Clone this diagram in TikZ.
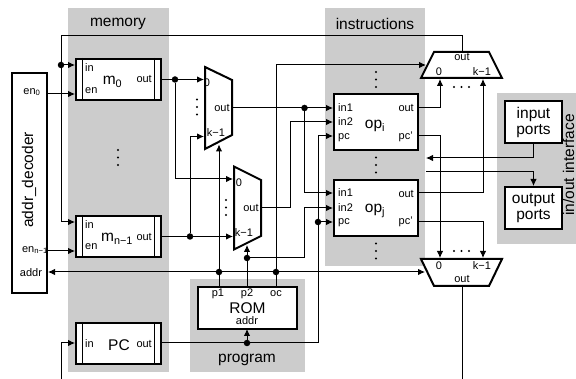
\documentclass[tikz,border=0pt]{standalone}
\usepackage{fontspec}
\setmainfont{Liberation Sans}
\usetikzlibrary{arrows.meta}
\definecolor{regiongray}{HTML}{CCCCCC}
\newcommand{\vdotset}[2]{\fill (#1,#2-7.5) circle (1.1) (#1,#2) circle (1.1) (#1,#2+7.5) circle (1.1);}
\newcommand{\hdotset}[2]{\fill (#1-7.5,#2) circle (1.1) (#1,#2) circle (1.1) (#1+7.5,#2) circle (1.1);}
\tikzset{
  region/.style={fill=regiongray,inner sep=0pt},
  box/.style={draw,line width=2pt,fill=white,inner sep=0pt,align=center,font=\fontsize{15.5}{16}\selectfont},
  mux/.style={draw,line width=2pt,fill=white,line join=miter},
  port/.style={font=\fontsize{11}{11}\selectfont,inner sep=0pt},
  bigtext/.style={font=\fontsize{15.5}{16}\selectfont,inner sep=0pt},
  junction/.style={circle,fill=black,inner sep=0pt,minimum size=6.5pt},
  wire/.style={line width=1pt},
  tip/.style={wire,-{Latex[length=7pt,width=6.5pt]}},
  twotip/.style={wire,{Latex[length=7pt,width=6.5pt]}-{Latex[length=7pt,width=6.5pt]}},
}
\begin{document}
\begin{tikzpicture}[x=1pt,y=-1pt]
\useasboundingbox (0,0) rectangle (576,379);
% grey areas
\node[region,minimum width=101pt,minimum height=364pt] (memreg) at (118.5,190) {};
\node[region,minimum width=100pt,minimum height=258pt] (instreg) at (375,137) {};
\node[region,minimum width=115pt,minimum height=93pt] (progreg) at (247.5,325.5) {};
\node[region,minimum width=79pt,minimum height=151pt] (ioreg) at (536.5,168.5) {};
% boxes
\node[box,minimum width=85pt,minimum height=41pt] (m0) at (118.5,79.5) {};
\node[box,minimum width=85pt,minimum height=41pt] (mn) at (118.5,236.5) {};
\node[box,minimum width=85pt,minimum height=41pt] (pc) at (118.5,343.5) {};
\draw[wire] ([xshift=7.5pt]m0.north west) -- ([xshift=7.5pt]m0.south west);
\draw[wire] ([xshift=-7.5pt]m0.north east) -- ([xshift=-7.5pt]m0.south east);
\draw[wire] ([xshift=7.5pt]mn.north west) -- ([xshift=7.5pt]mn.south west);
\draw[wire] ([xshift=-7.5pt]mn.north east) -- ([xshift=-7.5pt]mn.south east);
\draw[wire] ([xshift=7.5pt]pc.north west) -- ([xshift=7.5pt]pc.south west);
\draw[wire] ([xshift=-7.5pt]pc.north east) -- ([xshift=-7.5pt]pc.south east);
\node[box,minimum width=35pt,minimum height=220pt] (dec) at (29.5,183) {};
\node[box,minimum width=84pt,minimum height=56pt] (opi) at (376,122) {};
\node[box,minimum width=84pt,minimum height=56pt] (opj) at (376,208) {};
\node[box,minimum width=99pt,minimum height=42pt] (rom) at (247.5,308) {ROM};
\node[box,minimum width=57pt,minimum height=42pt] (inport) at (533.5,122) {input\\ports};
\node[box,minimum width=57pt,minimum height=42pt] (outport) at (533.5,208) {output\\ports};
% muxes
\draw[mux] (205,67) -- (232,80) -- (232,135) -- (205,149) -- cycle;
\draw[mux] (234,166.5) -- (261,180) -- (261,236) -- (234,249.5) -- cycle;
\draw[mux] (434,52) -- (489,52) -- (502,78) -- (421,78) -- cycle;
\draw[mux] (421,259) -- (502,259) -- (489,286) -- (434,286) -- cycle;
% ports and bends
\coordinate (m0in) at (75,65);
\coordinate (m0en) at (75,94);
\coordinate (m0out) at (162,79.5);
\coordinate (mnin) at (75,222);
\coordinate (mnen) at (75,251);
\coordinate (mnout) at (162,236.5);
\coordinate (pcin) at (75,343);
\coordinate (pcout) at (162,343);
\coordinate (decen0) at (47,94);
\coordinate (decenn) at (47,251);
\coordinate (decaddr) at (48,272);
\coordinate (maz) at (204,79.5);
\coordinate (mak) at (204,136.5);
\coordinate (mao) at (233,108);
\coordinate (mas) at (219,144.5);
\coordinate (mbz) at (233,179);
\coordinate (mbk) at (233,236.5);
\coordinate (mbo) at (262,208);
\coordinate (mbs) at (247,245);
\coordinate (iin1) at (333,108);
\coordinate (iin2) at (333,122);
\coordinate (ipc) at (333,136);
\coordinate (iout) at (419,108);
\coordinate (inext) at (419,136);
\coordinate (jin1) at (333,193);
\coordinate (jin2) at (333,208);
\coordinate (jpc) at (333,222);
\coordinate (jout) at (419,193);
\coordinate (jnext) at (419,222);
\coordinate (tz) at (440,79);
\coordinate (tk) at (483,79);
\coordinate (tsel) at (426,65);
\coordinate (tout) at (462,51);
\coordinate (dz) at (440,258);
\coordinate (dk) at (483,258);
\coordinate (dsel) at (425,272);
\coordinate (dout) at (462,287);
\coordinate (romp1) at (219,287);
\coordinate (romp2) at (247,287);
\coordinate (romoc) at (276,287);
\coordinate (romaddr) at (247,329);
\coordinate (bustl) at (61,36);
\coordinate (bustr) at (462,36);
\coordinate (busbl) at (61.5,379.3);
\coordinate (busbr) at (462,379.3);
\coordinate (mbbend) at (290,208);
\coordinate (p2bend) at (304,258);
\coordinate (pcbend) at (318,343);
\coordinate (inret) at (426,158);
\coordinate (outsrc) at (426,172);
% junctions
\node[junction] (j1) at (61,65) {};
\node[junction] (j2) at (175,79.5) {};
\node[junction] (j3) at (190,236.5) {};
\node[junction] (j4) at (304.5,108) {};
\node[junction] (j5) at (219,272) {};
\node[junction] (j6) at (276,272) {};
\node[junction] (j7) at (247,258) {};
\node[junction] (j8) at (318,222) {};
\node[junction] (j9) at (247,343) {};
% wires
\draw[wire] (tout) -- (bustr) -- (bustl) -- (j1);
\draw[tip] (j1) |- (mnin);
\draw[tip] (j1) -- (m0in);
\draw[tip] (decen0) -- (m0en);
\draw[tip] (decenn) -- (mnen);
\draw[tip] (dout) -- (busbr) -- (busbl) |- (pcin);
\draw[tip] (m0out) -- (maz);
\draw[tip] (j2) |- (mbz);
\draw[tip] (mnout) -- (mbk);
\draw[tip] (j3) |- (mak);
\draw[tip] (mao) -- (iin1);
\draw[tip] (j4) |- (jin1);
\draw[tip] (mbo) -- (mbbend) |- (iin2);
\draw[tip] (romp1) -- (mas);
\draw[tip] (romp2) -- (mbs);
\draw[tip] (j7) -- (p2bend) |- (jin2);
\draw[tip] (romoc) |- (tsel);
\draw[twotip] (decaddr) -- (dsel);
\draw[tip] (pcout) -- (pcbend) |- (ipc);
\draw[tip] (j8) -- (jpc);
\draw[tip] (j9) -- (romaddr);
\draw[tip] (iout) -| (tz);
\draw[tip] (inext) -| (dz);
\draw[tip] (jout) -| (tk);
\draw[tip] (jnext) -| (dk);
\draw[tip] (inport.south) |- (inret);
\draw[tip] (outsrc) -| (outport.north);
% dots
\vdotset{118}{157.5}
\vdotset{197}{107}
\vdotset{226}{207.5}
\vdotset{376}{79.5}
\vdotset{376}{165}
\vdotset{376}{251}
\hdotset{461.5}{87}
\hdotset{461.5}{251}
% labels
\node[bigtext] (memlbl) at (118,24) {memory};
\node[bigtext] (instlbl) at (375,24) {instructions};
\node[bigtext] (proglbl) at (247,360) {program};
\node[bigtext,rotate=90] (iolbl) at (568.5,165) {in/out interface};
\node[bigtext,rotate=90] (declbl) at (29,180) {addr\_decoder};
\node[port] (en0lbl) at (32,92) {en\textsubscript{0}};
\node[port] (ennlbl) at (35,250) {en\textsubscript{n−1}};
\node[port] (addrlbl) at (31,273) {addr};
\node[port,anchor=west] (m0inlbl) at (85,68) {in};
\node[port,anchor=west] (m0enlbl) at (85,91) {en};
\node[port,anchor=east] (m0outlbl) at (152,79) {out};
\node[bigtext] (m0lbl) at (112.5,82) {m\textsubscript{0}};
\node[port,anchor=west] (mninlbl) at (85,225) {in};
\node[port,anchor=west] (mnenlbl) at (85,247) {en};
\node[port,anchor=east] (mnoutlbl) at (152,237) {out};
\node[bigtext] (mnlbl) at (117,239) {m\textsubscript{n−1}};
\node[port,anchor=west] (pcinlbl) at (85,344) {in};
\node[port,anchor=east] (pcoutlbl) at (152,344) {out};
\node[bigtext] (pclbl) at (119,345) {PC};
\node[port] (ma0lbl) at (207,83) {0};
\node[port] (maolbl) at (222,108) {out};
\node[port] (maklbl) at (216,133) {k−1};
\node[port] (mb0lbl) at (239,183) {0};
\node[port] (mbolbl) at (251,208) {out};
\node[port] (mbklbl) at (244,233) {k−1};
\node[port,anchor=west] (iin1lbl) at (338,108) {in1};
\node[port,anchor=west] (iin2lbl) at (338,122) {in2};
\node[port,anchor=west] (ipclbl) at (338,138) {pc};
\node[port,anchor=east] (ioutlbl) at (414,108) {out};
\node[port,anchor=east] (inextlbl) at (413,137) {pc'};
\node[bigtext] (opilbl) at (375,126) {op\textsubscript{i}};
\node[port,anchor=west] (jin1lbl) at (338,193) {in1};
\node[port,anchor=west] (jin2lbl) at (338,208) {in2};
\node[port,anchor=west] (jpclbl) at (338,223) {pc};
\node[port,anchor=east] (joutlbl) at (414,194) {out};
\node[port,anchor=east] (jnextlbl) at (413,222) {pc'};
\node[bigtext] (opjlbl) at (375,211) {op\textsubscript{j}};
\node[port] (toutlbl) at (462,57) {out};
\node[port] (tzlbl) at (439,72) {0};
\node[port] (tklbl) at (482,72) {k−1};
\node[port] (doutlbl) at (462,279) {out};
\node[port] (dzlbl) at (439,266) {0};
\node[port] (dklbl) at (482,266) {k−1};
\node[port] (p1lbl) at (218,294) {p1};
\node[port] (p2lbl) at (247,294) {p2};
\node[port] (oclbl) at (276,294) {oc};
\node[port] (romaddrlbl) at (247,321) {addr};
\end{tikzpicture}
\end{document}
